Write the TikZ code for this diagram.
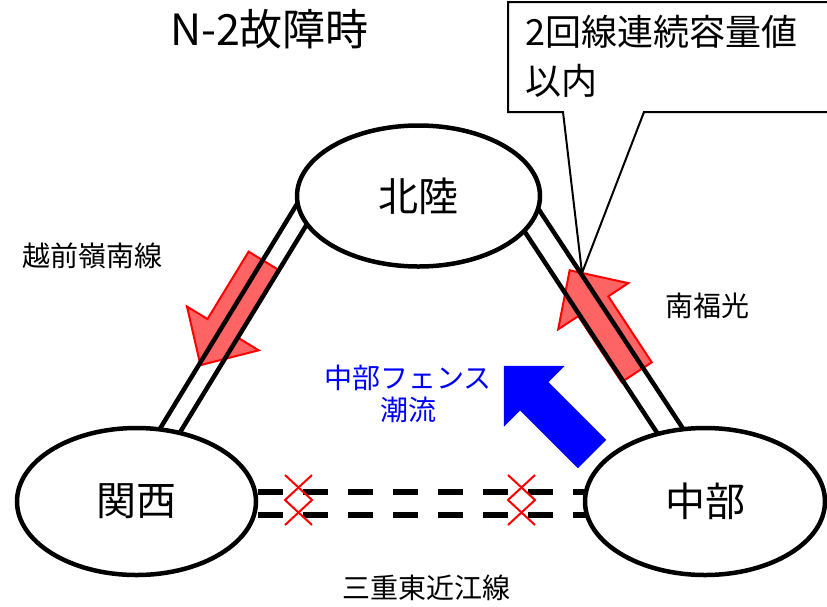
\documentclass[tikz,border=0pt]{standalone}
\usepackage{fontspec}
\setmainfont{Noto Sans CJK JP}
\usetikzlibrary{shapes.geometric}
\definecolor{arrred}{RGB}{255,100,100}
\begin{document}
\begin{tikzpicture}[x=1pt,y=-1pt,
  region/.style={ellipse, draw, line width=4.5pt, fill=white, inner sep=0pt, font=\fontsize{40}{48}\selectfont},
  wire/.style={line width=4.5pt},
  dwire/.style={line width=5.5pt, dash pattern=on 25pt off 20pt},
  redx/.style={draw=red, line width=2pt},
  flowred/.style={fill=arrred, draw=red, line width=2pt, line join=miter},
  flowblue/.style={fill=blue, draw=none},
  lbl/.style={font=\fontsize{28}{32}\selectfont, inner sep=0pt},
]
\useasboundingbox (0,0) rectangle (827,606);

% red flow arrows (under the lines)
\begin{scope}[shift={(264,261)}, rotate=238.6]
  \draw[flowred] (0,-18) -- (79,-18) -- (79,-42) -- (122,0) -- (79,42) -- (79,18) -- (0,18) -- cycle;
\end{scope}
\begin{scope}[shift={(636.7,372.2)}, rotate=123.35]
  \draw[flowred] (0,-18) -- (79,-18) -- (79,-42) -- (122,0) -- (79,42) -- (79,18) -- (0,18) -- cycle;
\end{scope}

% line end coordinates
\coordinate (hA) at (304.9,191.05);
\coordinate (kA) at (118.9,496.05);
\coordinate (hB) at (321.1,200.95);
\coordinate (kB) at (135.1,505.95);
\coordinate (hC) at (525.6,189.4);
\coordinate (cC) at (726.3,494.4);
\coordinate (hD) at (505.6,202.6);
\coordinate (cD) at (706.3,507.6);
\coordinate (ku) at (258,492);
\coordinate (cu) at (590,492);
\coordinate (kd) at (258,515);
\coordinate (cd) at (590,515);

\draw[wire] (hA) -- (kA);
\draw[wire] (hB) -- (kB);
\draw[wire] (hC) -- (cC);
\draw[wire] (hD) -- (cD);
\draw[dwire] (ku) -- (cu);
\draw[dwire] (kd) -- (cd);

% regions
\node[region, minimum width=243pt, minimum height=141pt] (hokuriku) at (418.5,196) {北陸};
\node[region, minimum width=239pt, minimum height=147pt] (kansai) at (136.5,501.5) {関西};
\node[region, minimum width=240pt, minimum height=147pt] (chubu) at (705,501.5) {中部};

% red crosses
\draw[redx] (285,475) -- (312,500) -- (285,525);
\draw[redx] (312,475) -- (285,500) -- (312,525);
\draw[redx] (508,475) -- (535,500) -- (508,525);
\draw[redx] (535,475) -- (508,500) -- (535,525);

% blue arrow
\begin{scope}[shift={(592,454)}, rotate=135]
  \fill[flowblue] (0,-20) -- (81.6,-20) -- (81.6,-43) -- (124.6,0) -- (81.6,43) -- (81.6,20) -- (0,20) -- cycle;
\end{scope}

% labels
\node[font=\fontsize{43}{50}\selectfont, inner sep=0pt] (title) at (269.5,29) {N-2故障時};
\node[lbl] (echizen) at (92.5,256) {越前嶺南線};
\node[lbl] (nanpuku) at (707.5,306) {南福光};
\node[lbl] (mie) at (426,588) {三重東近江線};
\node[lbl, text=blue, align=center] (fence) at (408,394) {中部フェンス\\潮流};

% callout
\draw[line width=2pt, fill=white, line join=miter] (563,112) -- (508,112) -- (508,2) -- (835,2) -- (835,112) -- (644,112) -- (582,273) -- cycle;
\node[anchor=base west, font=\fontsize{36}{44}\selectfont, inner sep=0pt] (note1) at (525,45.7) {2回線連続容量値};
\node[anchor=base west, font=\fontsize{36}{44}\selectfont, inner sep=0pt] (note2) at (525,94.7) {以内};
\end{tikzpicture}
\end{document}
